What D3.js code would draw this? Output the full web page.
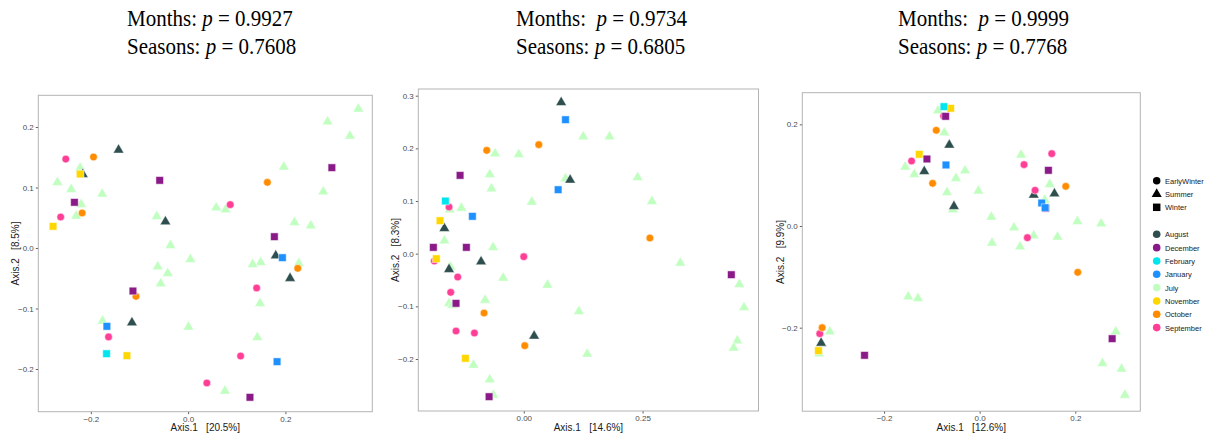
<!DOCTYPE html>
<html>
<head>
<meta charset="utf-8">
<script src="https://cdn.jsdelivr.net/npm/d3@7"></script>
<style>
  html, body { margin: 0; padding: 0; background: #fff; }
  svg { display: block; }
  text { font-family: "Liberation Sans", Arial, sans-serif; }
  .title { font-family: "Liberation Serif", "Times New Roman", serif; font-size: 24px; fill: #000; white-space: pre; }
</style>
</head>
<body>
<svg id="chart" width="1207" height="440"></svg>
<script>
// Month levels, their colours and the season each one belongs to
const months = ["August", "December", "February", "January", "July", "November", "October", "September"];
const monthColors = ["#2F4F4F", "#8B1A89", "#00E5EE", "#1E90FF", "#C1FFC1", "#FFD700", "#FF8C00", "#FF3E96"];
const seasons = ["EarlyWinter", "Summer", "Winter"];
const monthSeason = {
  July: "Summer", August: "Summer",
  September: "EarlyWinter", October: "EarlyWinter",
  November: "Winter", December: "Winter", January: "Winter", February: "Winter"
};
// Drawing order of the month groups
const drawOrder = ["July", "August", "September", "October", "November", "December", "January", "February"];

// PERMANOVA results printed above each ordination
const titlesMonths = ["0.9927", "0.9734", "0.9999"];
const titlesSeasons = ["0.7608", "0.6805", "0.7768"];
const axis1Labels = ["Axis.1   [20.5%]", "Axis.1   [14.6%]", "Axis.1   [12.6%]"];
const axis2Labels = ["Axis.2   [8.5%]", "Axis.2   [8.3%]", "Axis.2   [9.9%]"];

// Ordination scores: [month, Axis.1, Axis.2]
const pointsA = [
  ["July", 0.3498, 0.2298], ["July", 0.2866, 0.2088], ["July", 0.3326, 0.1851], ["July", 0.1966, 0.1339],
  ["July", 0.2777, 0.0931], ["July", 0.2186, 0.0424], ["July", 0.2522, 0.0369], ["July", 0.2275, -0.0253],
  ["July", 0.1491, -0.0237], ["July", 0.1326, -0.0270], ["July", 0.1478, -0.0915], ["July", 0.1423, -0.1477],
  ["July", 0.0756, -0.2364], ["July", 0.0577, 0.0667], ["July", 0.0770, 0.0634], ["July", 0.0048, -0.0187],
  ["July", 0.0007, -0.1306], ["July", -0.0364, 0.0044], ["July", -0.0646, 0.0523], ["July", -0.0625, -0.0309],
  ["July", -0.0419, -0.0419], ["July", -0.0564, -0.0590], ["July", -0.1766, 0.0893], ["July", -0.1759, -0.1207],
  ["July", -0.2687, 0.1085], ["July", -0.2405, 0.0970], ["July", -0.2220, 0.1322], ["July", -0.2199, 0.0722],
  ["July", -0.2302, 0.0529],
  ["August", -0.1430, 0.1620], ["August", -0.2165, 0.1218], ["August", -0.0467, 0.0435], ["August", -0.1155, -0.1234],
  ["August", 0.1801, -0.0127], ["August", 0.2096, -0.0501],
  ["September", -0.2515, 0.1470], ["September", -0.2620, 0.0512], ["September", -0.1636, -0.1470],
  ["September", 0.0866, 0.0716], ["September", 0.1409, -0.0661], ["September", 0.1079, -0.1785],
  ["September", 0.0385, -0.2231],
  ["October", -0.1945, 0.1504], ["October", -0.2179, 0.0579], ["October", -0.1072, -0.0799],
  ["October", 0.1629, 0.1085], ["October", 0.2254, -0.0336],
  ["November", -0.2220, 0.1223], ["November", -0.2777, 0.0358], ["November", -0.1258, -0.1780],
  ["December", -0.2337, 0.0755], ["December", -0.0584, 0.1118], ["December", -0.1134, -0.0711],
  ["December", 0.1773, 0.0187], ["December", 0.2955, 0.1328], ["December", 0.1271, -0.2468],
  ["January", -0.1670, -0.1295], ["January", 0.1938, -0.0160], ["January", 0.1828, -0.1879],
  ["February", -0.1677, -0.1747]
];

const pointsB = [
  ["July", 0.1250, 0.2222], ["July", 0.1805, 0.2222], ["July", -0.0604, 0.1899], ["July", -0.0105, 0.1886],
  ["July", -0.0716, 0.1506], ["July", -0.0681, 0.1234], ["July", 0.0878, 0.1424], ["July", 0.2395, 0.1449],
  ["July", 0.2697, 0.0994], ["July", 0.0169, 0.0981], ["July", -0.1313, 0.0867], ["July", -0.1559, 0.0835],
  ["July", -0.1671, 0.0247], ["July", -0.0646, 0.0120], ["July", 0.3294, -0.0177], ["July", -0.0435, -0.0462],
  ["July", 0.0499, -0.0595], ["July", -0.0815, -0.0880], ["July", -0.1573, -0.0943], ["July", -0.1503, -0.0975],
  ["July", 0.1159, -0.1095], ["July", 0.1334, -0.1905], ["July", -0.1060, -0.2114], ["July", -0.0716, -0.2392],
  ["July", -0.0639, -0.2684], ["July", 0.4537, -0.0582], ["July", 0.4635, -0.1019], ["July", 0.4494, -0.1652],
  ["July", 0.4417, -0.1791], ["July", -0.1540, -0.0250],
  ["August", 0.0787, 0.2873], ["August", 0.0976, 0.1399], ["August", -0.1671, 0.0481], ["August", -0.1573, -0.0297],
  ["August", -0.0899, -0.0152], ["August", 0.0218, -0.1563],
  ["September", -0.1573, 0.0886], ["September", -0.1882, -0.0139], ["September", -0.1390, -0.0443],
  ["September", -0.1538, -0.0734], ["September", -0.1426, -0.1468], ["September", -0.1039, -0.1506],
  ["September", 0.0000, -0.0057],
  ["October", -0.0780, 0.1962], ["October", 0.0316, 0.2070], ["October", 0.2654, 0.0297],
  ["October", -0.0836, -0.1127], ["October", 0.0021, -0.1747],
  ["November", -0.1763, 0.0627], ["November", -0.1840, -0.0095], ["November", -0.1229, -0.1987],
  ["December", -0.1341, 0.1487], ["December", -0.1903, 0.0120], ["December", -0.1208, 0.0120],
  ["December", -0.1426, -0.0943], ["December", -0.0730, -0.2715], ["December", 0.4368, -0.0399],
  ["January", 0.0878, 0.2544], ["January", 0.0723, 0.1215], ["January", -0.1081, 0.0709],
  ["February", -0.1650, 0.1000]
];

const pointsC = [
  ["July", -0.0873, 0.2269], ["July", -0.0740, 0.1836], ["July", 0.0866, 0.1397], ["July", -0.1557, 0.1161],
  ["July", -0.1368, 0.1016], ["July", -0.0307, 0.1089], ["July", -0.0496, 0.0938], ["July", -0.0684, 0.0662],
  ["July", -0.0028, 0.0689], ["July", 0.1466, 0.0820], ["July", 0.1361, 0.0511], ["July", -0.0558, 0.0321],
  ["July", 0.0244, 0.0177], ["July", 0.0719, -0.0033], ["July", 0.1131, -0.0190], ["July", 0.1627, -0.0216],
  ["July", 0.2045, 0.0092], ["July", 0.2541, 0.0046], ["July", 0.0258, -0.0334], ["July", 0.0845, -0.0407],
  ["July", -0.1494, -0.1390], ["July", -0.1291, -0.1423], ["July", -0.3134, -0.2079], ["July", 0.2848, -0.2079],
  ["July", 0.2569, -0.2702], ["July", 0.2967, -0.2813], ["July", 0.3037, -0.3325], ["July", -0.3358, -0.2511],
  ["August", -0.0635, 0.1593], ["August", -0.1159, 0.1075], ["August", -0.0538, 0.0387], ["August", 0.1131, 0.0610],
  ["August", 0.1564, 0.0636], ["August", -0.3316, -0.2302],
  ["September", -0.0754, 0.2164], ["September", -0.1424, 0.1279], ["September", 0.0928, 0.1207],
  ["September", 0.1508, 0.1423], ["September", 0.1159, 0.0702], ["September", 0.0998, -0.0230],
  ["September", -0.3344, -0.2118],
  ["October", -0.0908, 0.1882], ["October", -0.0984, 0.0839], ["October", 0.1801, 0.0780],
  ["October", 0.2052, -0.0911], ["October", -0.3295, -0.2000],
  ["November", -0.0607, 0.2315], ["November", -0.1264, 0.1410], ["November", -0.3372, -0.2452],
  ["December", -0.0712, 0.2157], ["December", -0.1103, 0.1318], ["December", 0.1438, 0.1095],
  ["December", 0.1382, 0.0348], ["December", 0.2771, -0.2216], ["December", -0.2408, -0.2544],
  ["January", -0.0705, 0.1200], ["January", 0.1298, 0.0452], ["January", 0.1368, 0.0361],
  ["February", -0.0747, 0.2348]
];

// Axis ranges and tick values of each panel
const xDomains = [[-0.308, 0.3786], [-0.222, 0.494], [-0.371, 0.336]];
const yDomains = [[-0.2706, 0.2524], [-0.2987, 0.3127], [-0.3643, 0.2622]];
const xTicks = [[-0.2, 0.0, 0.2], [0.0, 0.25], [-0.2, 0.0, 0.2]];
const yTicks = [[-0.2, -0.1, 0.0, 0.1, 0.2], [-0.2, -0.1, 0.0, 0.1, 0.2, 0.3], [-0.2, 0.0, 0.2]];
const xTickFormats = [".1f", ".2f", ".1f"];

const svg = d3.select("#chart");
const color = d3.scaleOrdinal().domain(months).range(monthColors);
const shape = d3.scaleOrdinal().domain(seasons).range([d3.symbolCircle, d3.symbolTriangle, d3.symbolSquare]);
const shapeSize = { EarlyWinter: 46, Summer: 50, Winter: 58 };

// Panel frames in page pixels
const frames = [
  { left: 38.3, top: 95.3, right: 372.3, bottom: 411.7, titleX: 127, ylabX: 15 },
  { left: 418.3, top: 89, right: 758.5, bottom: 411, titleX: 516, ylabX: 395 },
  { left: 802.3, top: 92.7, right: 1140.3, bottom: 411.2, titleX: 898, ylabX: 780 }
];
const allPoints = [pointsA, pointsB, pointsC];

// Title lines are set slightly condensed
function titleLine(g, x, y, label, value) {
  const t = g.append("text").attr("class", "title")
    .attr("transform", `translate(${x},${y}) scale(0.875,1)`);
  t.append("tspan").text(label);
  t.append("tspan").attr("font-style", "italic").text("p");
  t.append("tspan").text(" = " + value);
}

frames.forEach((f, i) => {
  const x = d3.scaleLinear().domain(xDomains[i]).range([f.left, f.right]);
  const y = d3.scaleLinear().domain(yDomains[i]).range([f.bottom, f.top]);

  // Title block
  const t = svg.append("g");
  titleLine(t, f.titleX, 26, i === 0 ? "Months: " : "Months:  ", titlesMonths[i]);
  titleLine(t, f.titleX, 54, "Seasons: ", titlesSeasons[i]);

  // Axes
  const xAxis = d3.axisBottom(x).tickValues(xTicks[i]).tickFormat(d3.format(xTickFormats[i]))
    .tickSizeOuter(0).tickSizeInner(2.5).tickPadding(2);
  const yAxis = d3.axisLeft(y).tickValues(yTicks[i]).tickFormat(d3.format(".1f"))
    .tickSizeOuter(0).tickSizeInner(2.5).tickPadding(2);
  const gx = svg.append("g").attr("transform", `translate(0,${f.bottom})`).call(xAxis);
  const gy = svg.append("g").attr("transform", `translate(${f.left},0)`).call(yAxis);
  [gx, gy].forEach(g => {
    g.select(".domain").remove();
    g.selectAll(".tick line").attr("stroke", "#333").attr("stroke-width", 0.8);
    g.selectAll(".tick text").attr("fill", "#4d4d4d").attr("font-size", 8)
      .attr("font-family", "Liberation Sans, Arial, sans-serif");
  });

  // Points
  const pts = allPoints[i].slice().sort((a, b) => drawOrder.indexOf(a[0]) - drawOrder.indexOf(b[0]));
  svg.append("g").selectAll("path").data(pts).join("path")
    .attr("transform", d => `translate(${x(d[1])},${y(d[2])})`)
    .attr("d", d => d3.symbol(shape(monthSeason[d[0]]), shapeSize[monthSeason[d[0]]])())
    .attr("fill", d => color(d[0]))
    .attr("stroke", "#fff").attr("stroke-width", 0.5);

  // Panel border
  svg.append("rect")
    .attr("x", f.left).attr("y", f.top)
    .attr("width", f.right - f.left).attr("height", f.bottom - f.top)
    .attr("fill", "none").attr("stroke", "#b3b3b3").attr("stroke-width", 1);

  // Axis titles
  svg.append("text").attr("x", (f.left + f.right) / 2).attr("y", 431)
    .attr("text-anchor", "middle").attr("font-size", 10).attr("fill", "#1a1a1a")
    .style("white-space", "pre").text(axis1Labels[i]);
  svg.append("text")
    .attr("transform", `translate(${f.ylabX + 3.5},${(f.top + f.bottom) / 2}) rotate(-90)`)
    .attr("text-anchor", "middle").attr("font-size", 10).attr("fill", "#1a1a1a")
    .style("white-space", "pre").text(axis2Labels[i]);
});

// Legend: season shapes
const legend = svg.append("g");
const lx = 1156.7, tx = 1165;
seasons.forEach((s, k) => {
  const yy = 180.7 + k * 13.3;
  legend.append("path").attr("transform", `translate(${lx},${yy})`)
    .attr("d", d3.symbol(shape(s), s === "Winter" ? 56 : 44)()).attr("fill", "#000");
  legend.append("text").attr("x", tx).attr("y", yy + 3).attr("font-size", 7.5).attr("fill", "#1a1a1a").text(s);
});
// Legend: month colours
months.forEach((m, k) => {
  const yy = 234.3 + k * 13.33;
  legend.append("circle").attr("cx", lx).attr("cy", yy).attr("r", 3.8).attr("fill", color(m));
  legend.append("text").attr("x", tx).attr("y", yy + 3).attr("font-size", 7.5).attr("fill", "#1a1a1a").text(m);
});
</script>
</body>
</html>
